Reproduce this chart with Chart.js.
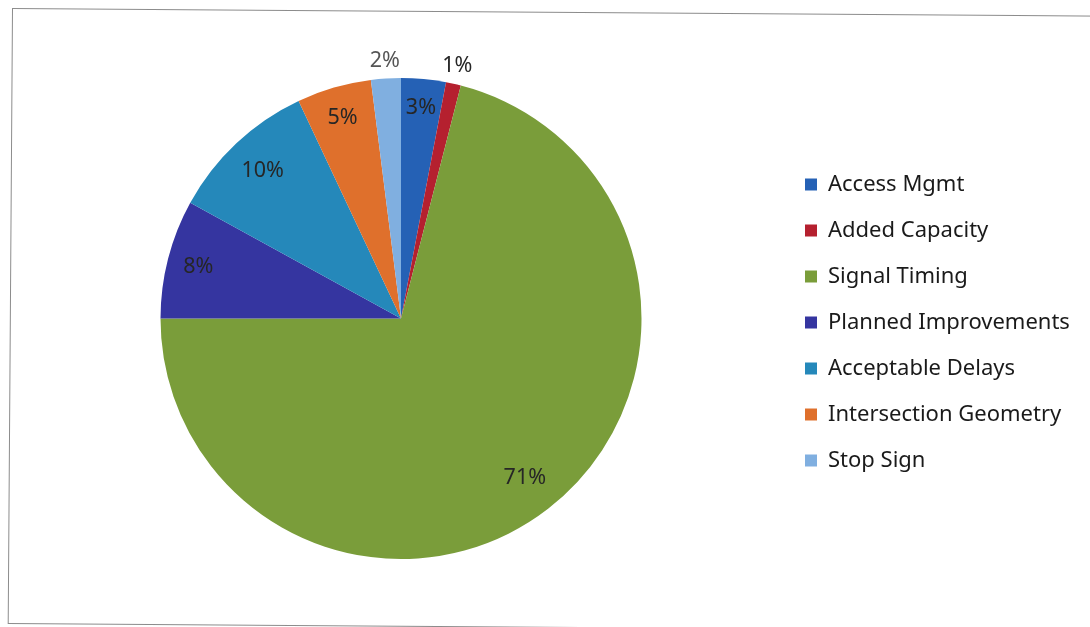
<!DOCTYPE html>
<html>
<head>
<meta charset="utf-8">
<script src="https://cdn.jsdelivr.net/npm/chart.js@4.4.1/dist/chart.umd.min.js"></script>
<style>
  html, body { margin: 0; padding: 0; background: #fff; overflow: hidden; }
  #frame {
    position: absolute; left: 12px; top: 8px; width: 1100px; height: 614px;
    border: 1.5px solid #8c8c8c; transform: rotate(0.4deg); transform-origin: 0 0;
  }
  #wrap { position: absolute; left: 0; top: 0; width: 1090px; height: 627px; }
</style>
</head>
<body>
<div id="frame"></div>
<div id="wrap"><canvas id="c" width="1090" height="627"></canvas></div>
<script>
/* datos del pastel (porcentajes) */
const categories = ["Access Mgmt", "Added Capacity", "Signal Timing", "Planned Improvements",
  "Acceptable Delays", "Intersection Geometry", "Stop Sign"];
const shares = [3, 1, 71, 8, 10, 5, 2];
const sliceColors = ["#2561b5", "#b5202f", "#7a9d3a", "#3535a0", "#2588ba", "#df702c", "#80afe0"];

// posición radial de cada etiqueta (fracción del radio), estilo "best fit" de Excel
const labelRadius = [0.88, 1.075, 0.84, 0.87, 0.84, 0.87, 1.075];
const LEGEND_W = 309;

const pctLabels = {
  id: "pctLabels",
  afterDatasetsDraw(chart) {
    const { ctx } = chart;
    const meta = chart.getDatasetMeta(0);
    const total = shares.reduce((a, b) => a + b, 0);
    ctx.save();
    ctx.font = "21.5px 'Noto Sans'";
    ctx.textAlign = "center";
    ctx.textBaseline = "middle";
    meta.data.forEach((arc, i) => {
      const { x, y, startAngle, endAngle, outerRadius } = arc.getProps(["x", "y", "startAngle", "endAngle", "outerRadius"], true);
      const mid = (startAngle + endAngle) / 2;
      const r = outerRadius * labelRadius[i];
      ctx.fillStyle = i === 6 ? "#555" : "#262626";
      ctx.fillText(Math.round(shares[i] / total * 100) + "%", x + Math.cos(mid) * r, y + Math.sin(mid) * r);
    });
    ctx.restore();
  },
};

// ancho fijo de la leyenda para dejar el pastel donde está en el original
const legendWidth = {
  id: "legendWidth",
  beforeLayout(chart) {
    const lg = chart.legend;
    if (!lg || lg._fixed) return;
    const fit0 = lg.fit;
    lg.fit = function () { fit0.call(this); this.width = LEGEND_W; };
    lg._fixed = true;
  },
  afterLayout(chart) {
    const lg = chart.legend;
    if (lg) { lg.top += 4; lg.bottom += 4; }
  },
};

new Chart(document.getElementById("c"), {
  type: "pie",
  data: {
    labels: categories,
    datasets: [{ data: shares, backgroundColor: sliceColors, borderWidth: 0 }],
  },
  options: {
    responsive: false,
    animation: false,
    layout: { padding: { left: 21, right: 0, top: 78, bottom: 68 } },
    plugins: {
      tooltip: { enabled: false },
      legend: {
        position: "right",
        labels: {
          font: { family: "'Noto Sans'", size: 22 },
          color: "#1a1a1a",
          boxWidth: 12, boxHeight: 12, padding: 24,
        },
      },
    },
  },
  plugins: [pctLabels, legendWidth],
});
</script>
</body>
</html>
